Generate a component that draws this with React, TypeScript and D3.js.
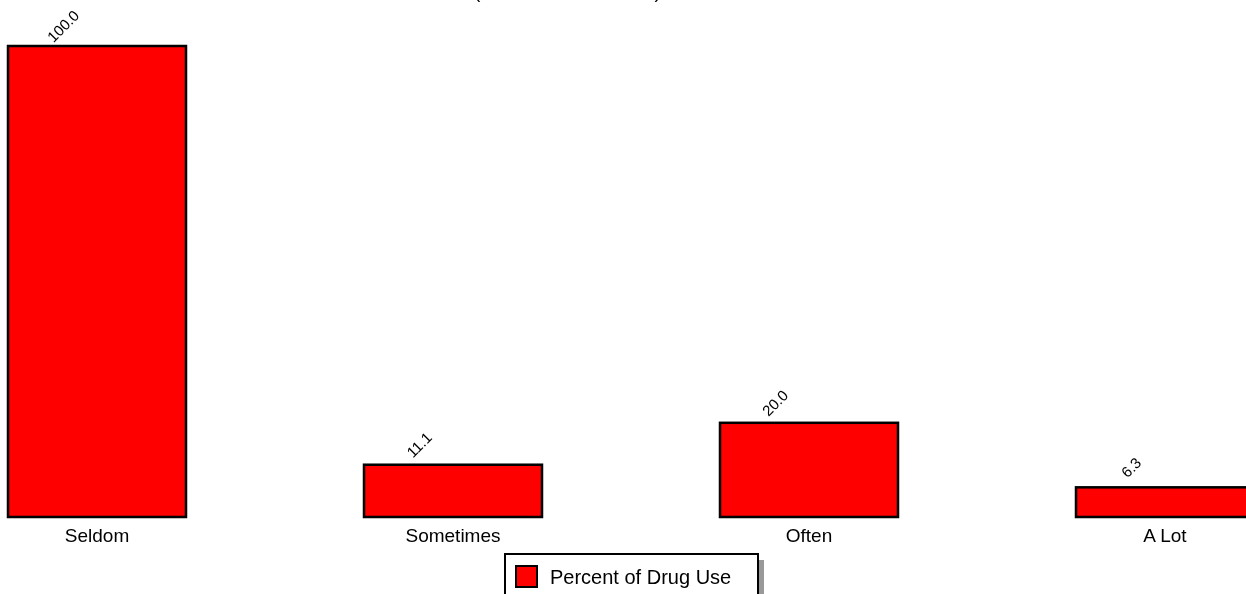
import React, { useRef, useEffect } from 'react';
import * as d3 from 'd3';

// Chart data
const categories = ['Seldom', 'Sometimes', 'Often', 'A Lot'];
const percentValues = [100.0, 11.1, 20.0, 6.3];
const seriesName = 'Percent of Drug Use';
const titleText = '(Adolescent Students)';

const App = () => {
  const chartRef = useRef<SVGSVGElement | null>(null);

  useEffect(() => {
    const svg = d3.select(chartRef.current);
    svg.selectAll('*').remove();

    const width = 1246;
    const height = 594;
    const font = '"Liberation Sans", Arial, sans-serif';

    // Scales
    const x = d3.scaleBand<string>()
      .domain(categories)
      .range([8, 8 + 1246])
      .paddingInner(0.5)
      .paddingOuter(0);

    const y = d3.scaleLinear()
      .domain([0, 100])
      .range([517, 46]);

    svg.attr('width', width).attr('height', height);

    // Title (mostly above the visible area)
    svg.append('text')
      .attr('x', 474)
      .attr('y', -2.5)
      .attr('font-family', font)
      .attr('font-size', 19)
      .attr('fill', '#000')
      .text(titleText);

    const bars = svg.selectAll('.bar')
      .data(percentValues)
      .enter()
      .append('g')
      .attr('class', 'bar');

    // soft shadow under each bar
    bars.append('rect')
      .attr('x', (d, i) => x(categories[i])! + 1)
      .attr('y', d => y(d) + 1)
      .attr('width', x.bandwidth())
      .attr('height', d => y(0) - y(d))
      .attr('fill', '#d8d8d8');

    bars.append('rect')
      .attr('x', (d, i) => x(categories[i])!)
      .attr('y', d => y(d))
      .attr('width', x.bandwidth())
      .attr('height', d => y(0) - y(d))
      .attr('fill', '#ff0000')
      .attr('stroke', '#000')
      .attr('stroke-width', 2.5);

    // value labels, rotated
    bars.append('text')
      .attr('transform', (d, i) => {
        const lx = x(categories[i])! + 55;
        const ly = y(d) - 20;
        return `translate(${lx},${ly}) rotate(-45)`;
      })
      .attr('text-anchor', 'middle')
      .attr('dominant-baseline', 'central')
      .attr('font-family', font)
      .attr('font-size', 15)
      .attr('fill', '#000')
      .text(d => d3.format('.1f')(d));

    // category labels
    svg.selectAll('.cat')
      .data(categories)
      .enter()
      .append('text')
      .attr('class', 'cat')
      .attr('x', d => x(d)! + x.bandwidth() / 2)
      .attr('y', 542)
      .attr('text-anchor', 'middle')
      .attr('font-family', font)
      .attr('font-size', 19)
      .attr('fill', '#000')
      .text(d => d);

    // Legend
    const legend = svg.append('g');
    legend.append('rect')
      .attr('x', 511)
      .attr('y', 560)
      .attr('width', 253)
      .attr('height', 50)
      .attr('fill', '#999');
    legend.append('rect')
      .attr('x', 505)
      .attr('y', 554)
      .attr('width', 253)
      .attr('height', 50)
      .attr('fill', '#fff')
      .attr('stroke', '#000')
      .attr('stroke-width', 2);
    legend.append('rect')
      .attr('x', 516)
      .attr('y', 566)
      .attr('width', 21)
      .attr('height', 21)
      .attr('fill', '#ff0000')
      .attr('stroke', '#000')
      .attr('stroke-width', 2);
    legend.append('text')
      .attr('x', 550)
      .attr('y', 584)
      .attr('font-family', font)
      .attr('font-size', 20)
      .attr('fill', '#000')
      .text(seriesName);
  }, []);

  return (
    <div style={{ position: 'fixed', top: 0, left: 0, width: 1246, height: 594, overflow: 'hidden' }}>
      <svg ref={chartRef} style={{ display: 'block' }} />
    </div>
  );
};

export default App;
